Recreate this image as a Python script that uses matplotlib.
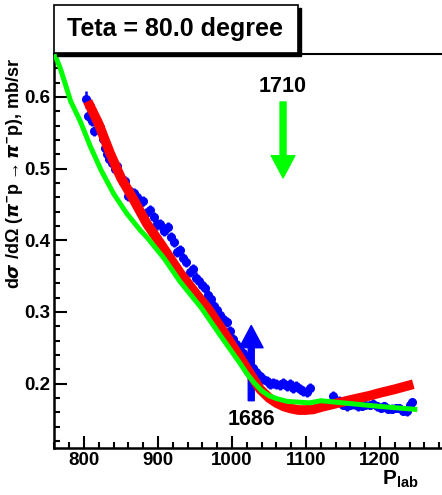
import matplotlib
matplotlib.use("Agg")
import matplotlib.pyplot as plt
from matplotlib.patches import Rectangle
from matplotlib.ticker import MultipleLocator

plt.rcParams['font.family'] = ['Liberation Sans', 'DejaVu Sans']
plt.rcParams['font.weight'] = 'bold'
plt.rcParams['mathtext.fontset'] = 'custom'
plt.rcParams['mathtext.rm'] = 'Liberation Sans:bold'
plt.rcParams['mathtext.bf'] = 'Liberation Sans:bold'

# measured cross section
p_data = [803, 805, 808, 811, 814, 818, 822, 825, 828, 831, 834, 838, 842, 845,
          849, 853, 856, 859, 863, 867, 872, 876, 880, 884, 889, 894, 899, 903,
          908, 913, 918, 922, 926, 930, 934, 938, 943, 947, 951, 955, 959, 963,
          967, 971, 975, 980, 984, 988, 993, 997, 1001, 1006, 1010, 1015, 1019,
          1024, 1029, 1033, 1038, 1042, 1047, 1051, 1056, 1060, 1065, 1069, 1074,
          1078, 1083, 1087, 1092, 1096, 1101, 1106, 1137, 1145, 1150, 1155, 1160,
          1165, 1170, 1175, 1180, 1186, 1191, 1196, 1201, 1206, 1211, 1216, 1221,
          1226, 1231, 1236, 1240, 1243]
xs_data = [0.597, 0.574, 0.588, 0.566, 0.552, 0.566, 0.558, 0.541, 0.529, 0.520,
           0.513, 0.508, 0.499, 0.504, 0.490, 0.481, 0.483, 0.462, 0.468, 0.466,
           0.460, 0.452, 0.455, 0.438, 0.442, 0.432, 0.422, 0.422, 0.413, 0.418,
           0.404, 0.397, 0.383, 0.386, 0.375, 0.369, 0.356, 0.360, 0.348, 0.343,
           0.338, 0.334, 0.324, 0.318, 0.308, 0.302, 0.296, 0.290, 0.286, 0.274,
           0.262, 0.255, 0.250, 0.243, 0.236, 0.228, 0.222, 0.216, 0.210, 0.206,
           0.204, 0.199, 0.201, 0.199, 0.198, 0.201, 0.196, 0.200, 0.194, 0.197,
           0.193, 0.190, 0.188, 0.194, 0.183, 0.176, 0.170, 0.168, 0.170, 0.171,
           0.168, 0.169, 0.170, 0.170, 0.172, 0.168, 0.166, 0.168, 0.165, 0.165,
           0.166, 0.166, 0.162, 0.161, 0.170, 0.174]
xs_err = [0.012] + [0.007] * 73 + [0.006] * 22

# fit (red)
p_fit = [805, 820, 835, 850, 868, 885, 905, 930, 957, 968, 990, 1011, 1025,
         1038, 1050, 1060, 1070, 1080, 1090, 1100, 1110, 1120, 1140, 1160,
         1186, 1200, 1220, 1245]
xs_fit = [0.594, 0.562, 0.522, 0.487, 0.455, 0.423, 0.393, 0.354, 0.318, 0.304,
          0.270, 0.236, 0.213, 0.192, 0.180, 0.173, 0.168, 0.165, 0.163, 0.163,
          0.164, 0.167, 0.172, 0.177, 0.183, 0.187, 0.192, 0.199]

# model (green)
p_model = [757, 768, 782, 795, 809, 823, 840, 858, 876, 886, 908, 930, 959,
           985, 1011, 1020, 1030, 1040, 1050, 1060, 1075, 1090, 1105, 1120,
           1140, 1160, 1200, 1247]
xs_model = [0.668, 0.640, 0.594, 0.566, 0.530, 0.498, 0.465, 0.437, 0.414,
            0.403, 0.375, 0.342, 0.305, 0.266, 0.228, 0.214, 0.201, 0.190,
            0.183, 0.179, 0.175, 0.174, 0.173, 0.176, 0.174, 0.172, 0.168,
            0.164]

# resonance markers
res_labels = ['1710', '1686']
res_p = [1069, 1026]

W, H = 442, 495
fig = plt.figure(figsize=(W / 100, H / 100), dpi=100)
ax = fig.add_axes([54.4 / W, 47 / H, 392.2 / W, 394 / H])
ax.set_xlim(760, 1290)
ax.set_ylim(0.11, 0.66)

ax.errorbar(p_data, xs_data, yerr=xs_err, fmt='o', color='#0000ff', ms=5.5,
            elinewidth=1.8, capsize=0, zorder=2, clip_on=False)
ax.plot(p_fit, xs_fit, color='#ff0000', lw=7, solid_capstyle='butt', zorder=3)
ax.plot(p_model, xs_model, color='#00ff00', lw=3.6, zorder=4)

# arrows for the two resonances
ax.annotate('', xy=(res_p[0], 0.487), xytext=(res_p[0], 0.593),
            arrowprops=dict(color='#00ff00', width=4.3, headwidth=17,
                            headlength=16, shrink=0), zorder=5)
ax.text(res_p[0], 0.615, res_labels[0], ha='center', va='center',
        fontsize=15.5, fontweight='bold')
ax.annotate('', xy=(res_p[1], 0.281), xytext=(res_p[1], 0.176),
            arrowprops=dict(color='#0000ff', width=4.3, headwidth=17,
                            headlength=16, shrink=0), zorder=1)
ax.text(res_p[1], 0.150, res_labels[1], ha='center', va='center',
        fontsize=15.5, fontweight='bold')

ax.xaxis.set_minor_locator(MultipleLocator(20))
ax.tick_params(which='both', direction='in', width=1.5, top=False, right=False,
               labelsize=13.5)
ax.tick_params(which='major', length=9)
ax.tick_params(which='minor', length=4.5)
ax.tick_params(axis='y', which='major', pad=3)
ax.tick_params(axis='x', which='major', pad=3)
ax.set_yticks([0.2, 0.3, 0.4, 0.5, 0.6])
ax.yaxis.set_minor_locator(MultipleLocator(0.02))
ax.set_yticklabels(['0.2', '0.3', '0.4', '0.5', '0.6'], fontweight='bold')
ax.set_xticks([800, 900, 1000, 1100, 1200])
ax.set_xticklabels(['800', '900', '1000', '1100', '1200'], fontweight='bold')

for side in ['left', 'bottom']:
    ax.spines[side].set_linewidth(1.8)
ax.spines['top'].set_linewidth(1.5)
ax.spines['right'].set_linewidth(1.5)

fig.text(15 / W, 1 - 57 / H, r'd$\sigma$ /d$\Omega$ ($\pi^{-}$p$\rightarrow\pi^{-}$p), mb/sr',
         rotation=90, ha='center', va='top', fontsize=13, fontweight='bold')
fig.text(419 / W, 1 - 479 / H, r'$\mathbf{P}_{\mathbf{lab}}$', ha='right',
         va='center', fontsize=15)

# title box with shadow
fig.patches.append(Rectangle((57 / W, 1 - 56 / H), 244 / W, 48 / H,
                             transform=fig.transFigure, facecolor='black',
                             edgecolor='black', zorder=5))
fig.patches.append(Rectangle((54 / W, 1 - 53 / H), 244 / W, 48 / H,
                             transform=fig.transFigure, facecolor='white',
                             edgecolor='black', lw=1.2, zorder=6))
fig.text(175 / W, 1 - 29 / H, 'Teta = 80.0 degree', ha='center', va='center',
         fontsize=18, fontweight='bold', zorder=7)

fig.savefig('out.png', dpi=100)
